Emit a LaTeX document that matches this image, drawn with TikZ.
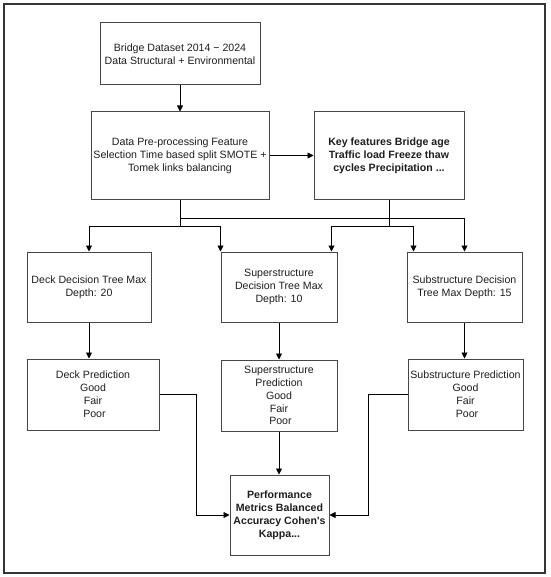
\documentclass[tikz,border=0pt]{standalone}
\usepackage{fontspec}
\setmainfont{Liberation Sans}
\usetikzlibrary{arrows.meta}
\definecolor{boxgray}{HTML}{474747}
\definecolor{framegray}{HTML}{353535}
\definecolor{textgray}{HTML}{1E1E1E}
\begin{document}
\begin{tikzpicture}[
        x=1pt, y=-1pt,
        font=\fontsize{10.6}{12.9}\selectfont
    ]
    \tikzset{
        mybox/.style = {rectangle, draw=boxgray, line width=1pt, align=center,
                        inner sep=0pt, fill=white, text=textgray},
        mybold/.style = {mybox, font=\fontsize{10.6}{12.9}\selectfont\bfseries},
        edgen/.style = {-, line width=0.9pt, black},
        edgea/.style = {-{Triangle[length=6pt,width=6pt]}, line width=0.9pt, black},
    }
    \useasboundingbox (0,0) rectangle (550,577);
    \draw[framegray, line width=1.8pt] (4,4) rectangle (545,573);
    %
    \node[mybox, minimum width=160pt, minimum height=62pt] at (180,54) (data)
        {Bridge Dataset 2014 − 2024\\Data Structural + Environmental};
    \node[mybox, minimum width=178pt, minimum height=87pt] at (180,155.5) (prep)
        {Data Pre-processing Feature\\Selection Time based split SMOTE +\\Tomek links balancing};
    \node[mybold, minimum width=150pt, minimum height=88pt] at (389,155.5) (feat)
        {Key features Bridge age\\Traffic load Freeze thaw\\cycles Precipitation ...};
    %
    \node[mybox, minimum width=124pt, minimum height=70pt] at (89,287) (deck)
        {Deck Decision Tree Max\\Depth: 20};
    \node[mybox, minimum width=116pt, minimum height=70pt] at (279,287) (supt)
        {Superstructure\\Decision Tree Max\\Depth: 10};
    \node[mybox, minimum width=115pt, minimum height=70pt] at (464.5,287) (subt)
        {Substructure Decision\\Tree Max Depth: 15};
    %
    \node[mybox, minimum width=132pt, minimum height=71pt] at (93,394.5) (deckp)
        {Deck Prediction\\Good\\Fair\\\ Poor};
    \node[mybox, minimum width=116pt, minimum height=71pt] at (279,395.5) (supp)
        {Superstructure\\Prediction\\Good\\Fair\\\ Poor};
    \node[mybox, minimum width=115pt, minimum height=71pt] at (465.5,394.5) (subp)
        {Substructure Prediction\\Good\\Fair\\\ Poor};
    \node[mybold, minimum width=99pt, minimum height=80pt] at (279.5,515) (perf)
        {Performance\\Metrics Balanced\\Accuracy Cohen\textquotesingle s\\Kappa...};
    %
    \coordinate (jq) at (180,218);
    \coordinate (jp) at (180,226);
    \coordinate (jf) at (feat.south |- jp);
    %
    \draw[edgea] (data) -- (prep);
    \draw[edgea] (prep) -- (feat);
    %
    \draw[edgen] (prep.south) -- (jp);
    \draw[edgea] (jp) -| (deck.north);
    \draw[edgea] (jp) -| (supt.north west);
    \draw[edgea] (jq) -| (subt.north);
    \draw[edgen] (feat.south) -- (jf);
    \draw[edgea] (jf) -| ([xshift=-6pt]supt.north east);
    \draw[edgea] (jf) -| ([xshift=7pt]subt.north west);
    %
    \draw[edgea] (deck.south) -- (deck.south |- deckp.north);
    \draw[edgea] (supt.south) -- (supt.south |- supp.north);
    \draw[edgea] (subt.south) -- (subt.south |- subp.north);
    %
    \draw[edgea] (supp.south) -- (supp.south |- perf.north);
    \draw[edgea] (deckp.east) -- ++(37,0) |- (perf.west);
    \draw[edgea] (subp.west) -- ++(-39,0) |- (perf.east);
\end{tikzpicture}
\end{document}
